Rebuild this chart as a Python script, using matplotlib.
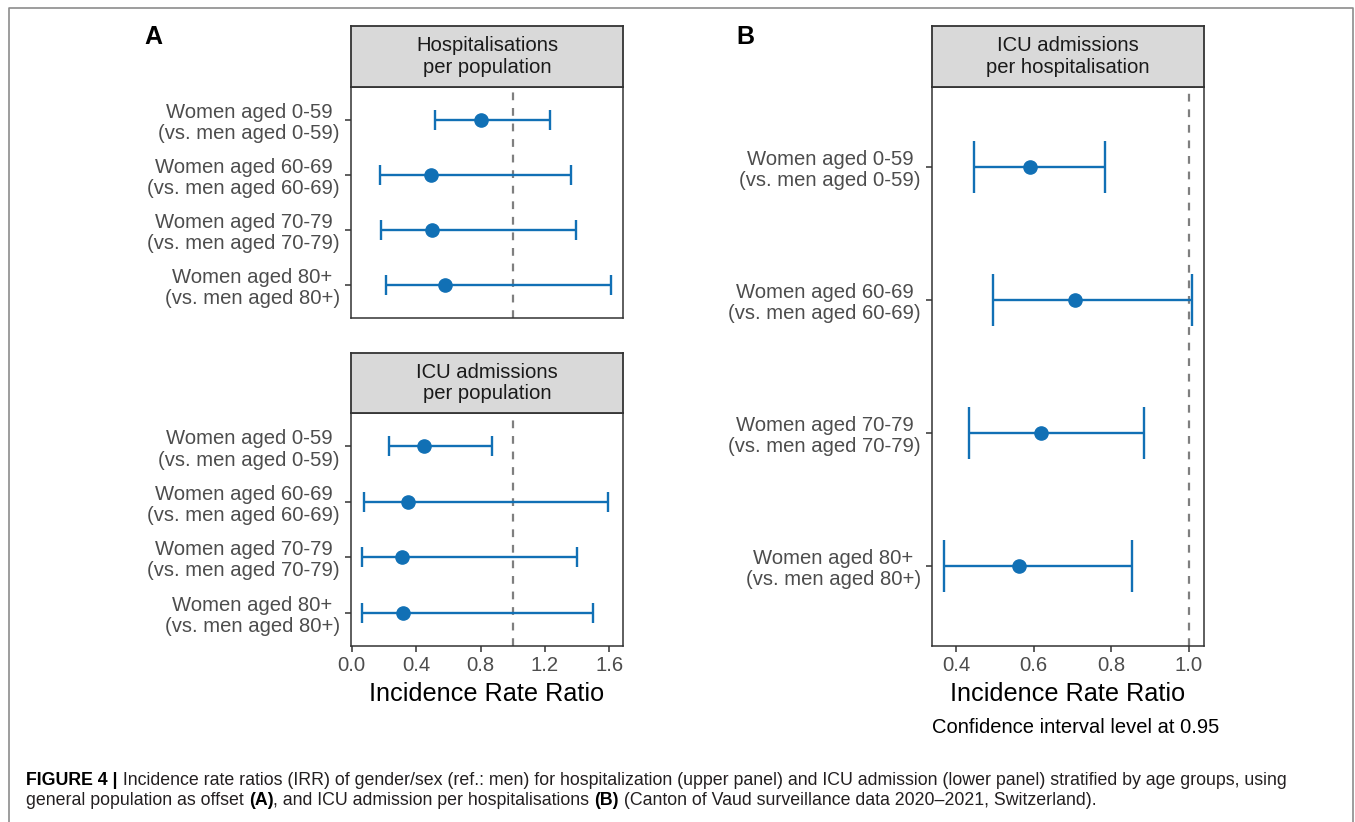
import matplotlib
matplotlib.use("Agg")
import matplotlib.pyplot as plt
from matplotlib.lines import Line2D

plt.rcParams['font.family'] = ['Liberation Sans', 'DejaVu Sans']

# data
groups = ["Women aged 0-59\n(vs. men aged 0-59)",
          "Women aged 60-69\n(vs. men aged 60-69)",
          "Women aged 70-79\n(vs. men aged 70-79)",
          "Women aged 80+\n(vs. men aged 80+)"]

hosp_pop_irr = [0.80, 0.49, 0.50, 0.58]
hosp_pop_low = [0.52, 0.175, 0.18, 0.21]
hosp_pop_high = [1.23, 1.36, 1.39, 1.61]

icu_pop_irr = [0.45, 0.35, 0.31, 0.32]
icu_pop_low = [0.23, 0.075, 0.065, 0.066]
icu_pop_high = [0.87, 1.59, 1.40, 1.50]

icu_hosp_irr = [0.59, 0.706, 0.619, 0.561]
icu_hosp_low = [0.445, 0.496, 0.434, 0.369]
icu_hosp_high = [0.783, 1.007, 0.885, 0.852]

ticks_a = [0.0, 0.4, 0.8, 1.2, 1.6]
ticks_b = [0.4, 0.6, 0.8, 1.0]

W, H = 1355, 822
BLUE = '#1170B5'
DARK = '#333333'
fig = plt.figure(figsize=(W / 100, H / 100), dpi=100)


def box(x0, y0, x1, y1):
    return [x0 / W, 1 - y1 / H, (x1 - x0) / W, (y1 - y0) / H]


def panel(x0, x1, s0, y0, y1, title, irr, low, high, xlim, cap, xticks=None):
    ax = fig.add_axes(box(x0, y0, x1, y1))
    st = fig.add_axes(box(x0, s0, x1, y0))
    st.set_facecolor('#D9D9D9')
    st.set_xticks([])
    st.set_yticks([])
    for s in st.spines.values():
        s.set_color(DARK)
        s.set_linewidth(1.3)
    st.text(0.5, 0.5, title, ha='center', va='center', fontsize=14.6,
            color='#1A1A1A', linespacing=1.15, transform=st.transAxes)

    y = list(range(len(groups)))
    xerr = [[m - l for m, l in zip(irr, low)], [h - m for m, h in zip(irr, high)]]
    ax.axvline(1.0, color='#7F7F7F', ls=(0, (3.5, 3.5)), lw=1.6, zorder=0)
    ax.errorbar(irr, y, xerr=xerr, fmt='o', color=BLUE, ms=9.5,
                elinewidth=1.7, capsize=cap, capthick=1.7)
    ax.set_ylim(len(groups) - 0.4, -0.6)
    ax.set_xlim(*xlim)
    ax.set_yticks(y)
    ax.set_yticklabels(groups)
    for lbl in ax.get_yticklabels():
        lbl.set_multialignment('center')
        lbl.set_linespacing(1.15)
    ax.tick_params(axis='y', length=4, width=1.1, color=DARK,
                   labelcolor='#4D4D4D', labelsize=14.6, pad=4)
    if xticks is None:
        ax.set_xticks([])
    else:
        ax.set_xticks(xticks)
        ax.set_xticklabels([f'{t:.1f}' for t in xticks])
        ax.tick_params(axis='x', length=4, width=1.1, color=DARK,
                       labelcolor='#4D4D4D', labelsize=14.6, pad=3)
    for s in ax.spines.values():
        s.set_color(DARK)
        s.set_linewidth(1.1)
    return ax


panel(351, 623, 26, 87, 318, 'Hospitalisations\nper population',
      hosp_pop_irr, hosp_pop_low, hosp_pop_high, (-0.005, 1.685), 7)
panel(351, 623, 353, 413, 646, 'ICU admissions\nper population',
      icu_pop_irr, icu_pop_low, icu_pop_high, (-0.005, 1.685), 7, ticks_a)
panel(932, 1204, 26, 87, 646, 'ICU admissions\nper hospitalisation',
      icu_hosp_irr, icu_hosp_low, icu_hosp_high, (0.338, 1.0386), 19, ticks_b)

fig.text(487 / W, 1 - 701 / H, 'Incidence Rate Ratio', ha='center',
         va='baseline', fontsize=18.2, color='black')
fig.text(1068 / W, 1 - 701 / H, 'Incidence Rate Ratio', ha='center',
         va='baseline', fontsize=18.2, color='black')
fig.text(932 / W, 1 - 733 / H, 'Confidence interval level at 0.95',
         ha='left', va='baseline', fontsize=14.5, color='black')

fig.text(153 / W, 1 - 37 / H, 'A', ha='center', va='center',
         fontsize=18, fontweight='bold')
fig.text(745 / W, 1 - 37 / H, 'B', ha='center', va='center',
         fontsize=18, fontweight='bold')

# frame around the figure
fig.add_artist(Line2D([9 / W, 9 / W, 1353 / W, 1353 / W],
                      [0, 1 - 8 / H, 1 - 8 / H, 0],
                      color='#8C8C8C', lw=1.2, transform=fig.transFigure))

# caption, drawn piece by piece so bold parts can sit inline
renderer = fig.canvas.get_renderer()
caption = [
    [("FIGURE 4 |", 'bold'),
     (" Incidence rate ratios (IRR) of gender/sex (ref.: men) for hospitalization "
      "(upper panel) and ICU admission (lower panel) stratified by age groups, using", 'normal')],
    [("general population as offset ", 'normal'), ("(A)", 'bold'),
     (", and ICU admission per hospitalisations ", 'normal'), ("(B)", 'bold'),
     (" (Canton of Vaud surveillance data 2020\u20132021, Switzerland).", 'normal')],
]
for row, base in zip(caption, [785, 805]):
    x = 26
    for txt, weight in row:
        t = fig.text(x / W, 1 - base / H, txt, ha='left', va='baseline',
                     fontsize=12.75, fontweight=weight,
                     color='#231F20' if weight == 'normal' else 'black')
        x += t.get_window_extent(renderer).width

fig.savefig('out.png', dpi=100)
